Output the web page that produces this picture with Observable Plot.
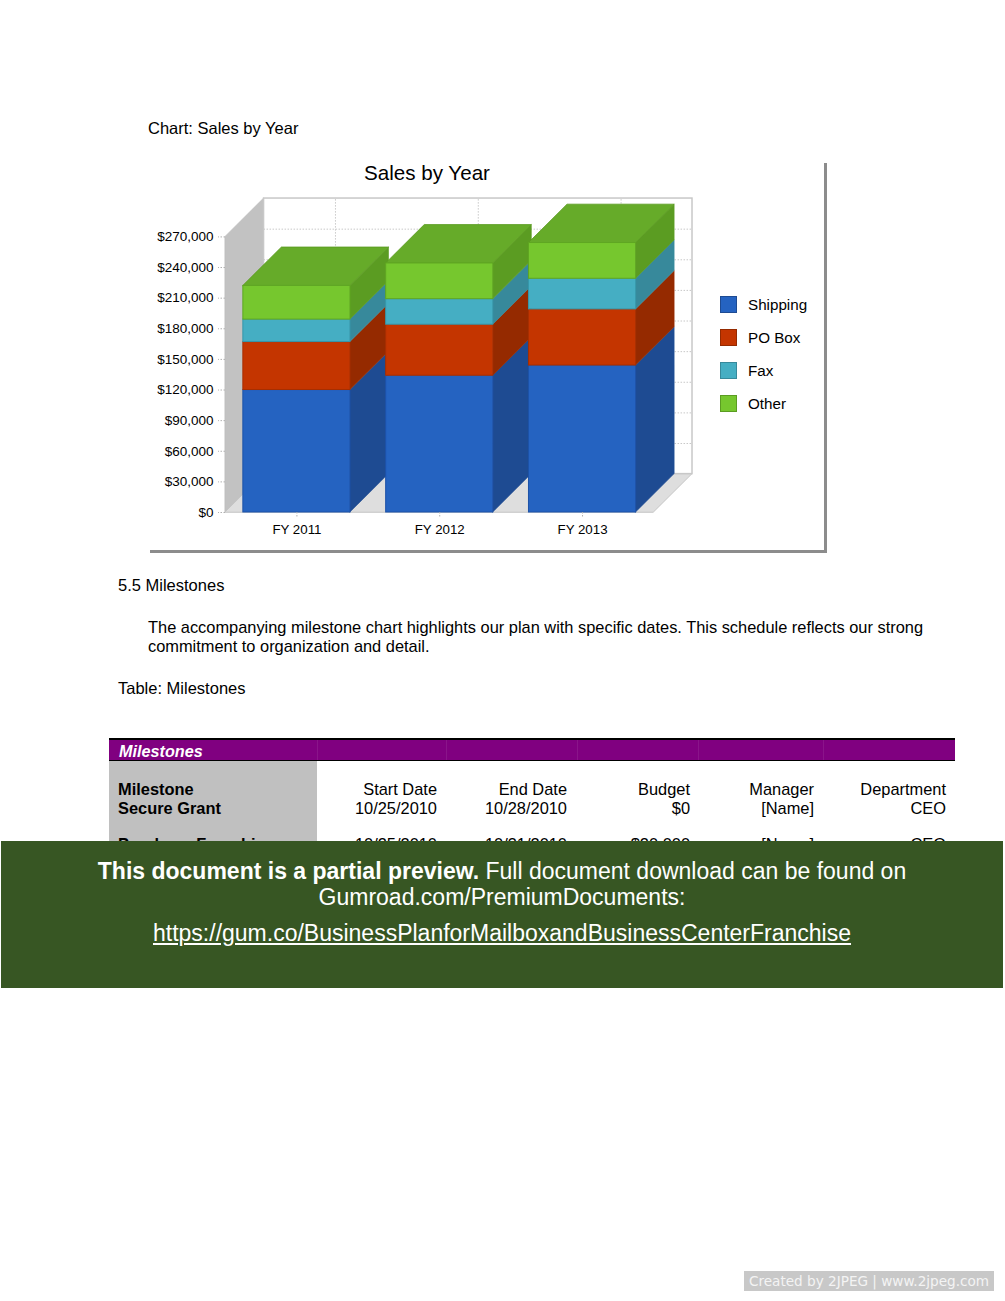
<!DOCTYPE html>
<html>
<head>
<meta charset="utf-8">
<script src="https://cdn.jsdelivr.net/npm/d3@7"></script>
<script src="https://cdn.jsdelivr.net/npm/@observablehq/plot@0.6"></script>
<style>
  html, body { margin: 0; padding: 0; background: #fff; }
  body { font-family: "Liberation Sans", Arial, sans-serif; color: #000; }
  #page { position: relative; width: 1005px; height: 1301px; overflow: hidden; background: #fff; }
  .abs { position: absolute; white-space: nowrap; }
  .t16 { font-size: 16.5px; line-height: 16px; }
  #chartBox { position: absolute; left: 150px; top: 163px; width: 674px; height: 387px;
              border-right: 3px solid #8c8c8c; border-bottom: 3px solid #8c8c8c; background: #fff; }
  #plotHolder { position: absolute; left: 150px; top: 186px; }
  .sw { position: absolute; width: 15px; height: 15px; border: 1px solid; }
  .lg { position: absolute; font-size: 15.2px; line-height: 15px; }
  .para { position: absolute; left: 148px; top: 618px; font-size: 16.4px; line-height: 19px; }
  #thead { position: absolute; left: 109px; top: 738px; width: 846px; height: 20px; background: #800080;
           border-top: 2px solid #000; border-bottom: 1px solid #000; }
  .sep { position: absolute; top: 0; width: 1px; height: 20px; background: rgba(255,255,255,0.08); }
  #greycol { position: absolute; left: 109px; top: 761px; width: 208px; height: 120px; background: #c0c0c0; }
  .r { position: absolute; font-size: 16.4px; line-height: 16px; text-align: right; white-space: nowrap; }
  .b { font-weight: bold; }
  #banner { position: absolute; left: 1px; top: 841px; width: 1002px; height: 147px; background: #375623; color: #fff; }
  .bl { position: absolute; left: 0; width: 1002px; text-align: center; font-size: 23px; line-height: 23px; white-space: nowrap; }
  #wm { position: absolute; left: 744px; top: 1271px; width: 250px; height: 20px; background: #c8c8c8; color: #f4f4f4;
        font-family: "DejaVu Sans", Verdana, sans-serif; font-size: 13.6px; line-height: 20px; text-align: center; white-space: nowrap; }
</style>
</head>
<body>
<div id="page">
  <div class="abs t16" style="left:148px; top:120px;">Chart: Sales by Year</div>

  <div id="chartBox"></div>
  <div class="abs" style="left:150px; width:554px; top:163px; text-align:center; font-size:20.6px; line-height:20px;">Sales by Year</div>
  <div id="plotHolder"></div>
  <div id="legend"></div>

  <div class="abs t16" style="left:118px; top:577px;">5.5 Milestones</div>
  <div class="para">The accompanying milestone chart highlights our plan with specific dates. This schedule reflects our strong<br>commitment to organization and detail.</div>
  <div class="abs t16" style="left:118px; top:680px;">Table: Milestones</div>

  <div id="thead">
    <div class="sep" style="left:208px"></div>
    <div class="sep" style="left:337px"></div>
    <div class="sep" style="left:468px"></div>
    <div class="sep" style="left:589px"></div>
    <div class="sep" style="left:714px"></div>
    <div class="abs b" style="left:10px; top:3px; font-size:16.2px; line-height:16px; font-style:italic; color:#fff;">Milestones</div>
  </div>
  <div id="greycol"></div>
  <div id="rows"></div>

  <div id="banner">
    <div class="bl" style="top:19px;"><b>This document is a partial preview.</b> Full document download can be found on</div>
    <div class="bl" style="top:45px;">Gumroad.com/PremiumDocuments:</div>
    <div class="bl" style="top:81px;"><span style="text-decoration:underline;">https://gum.co/BusinessPlanforMailboxandBusinessCenterFranchise</span></div>
  </div>

  <div id="wm">Created by 2JPEG | www.2jpeg.com</div>
</div>

<script>
// ---------- data ----------
const categories = ["FY 2011", "FY 2012", "FY 2013"];
const seriesNames = ["Shipping", "PO Box", "Fax", "Other"];
const shipping = [120000, 134000, 144000];
const poBox = [47000, 50000, 55000];
const fax = [22000, 25000, 30000];
const other = [33000, 35000, 35000];
const yTicks = [0, 30000, 60000, 90000, 120000, 150000, 180000, 210000, 240000, 270000];

// table data
const tableHeader = ["Milestone", "Start Date", "End Date", "Budget", "Manager", "Department"];
const tableRows = [
  ["Secure Grant", "10/25/2010", "10/28/2010", "$0", "[Name]", "CEO"],
  ["Purchase Franchise", "10/25/2010", "10/31/2010", "$20,000", "[Name]", "CEO"]
];

// ---------- styles ----------
const series = [shipping, poBox, fax, other];
const frontColors = ["#2563c1", "#c43500", "#45aec3", "#76c72e"];
const sideColors  = ["#1e4b92", "#952a00", "#37899b", "#5b9c22"];
const edgeColors  = ["#1d52a8", "#a82e00", "#3697aa", "#5fa622"];
const topColor = "#66ab29";

const DX = 0.27, DY = 37600, HALF = 0.375;
const xMin = -0.5, xMax = categories.length - 0.5;
const yMax = yTicks[yTicks.length - 1];

// stacked segments
const segs = [];
categories.forEach((c, i) => {
  let acc = 0;
  series.forEach((vals, s) => {
    segs.push({ i, s, key: i + "-" + s, lo: acc, hi: acc + vals[i] });
    acc += vals[i];
  });
});

const grid = { stroke: "#c8c8c8", strokeDasharray: "1.5,1.5" };

const marks = [
  // left wall
  Plot.areaY([{ x: xMin, y1: 0, y2: yMax }, { x: xMin + DX, y1: DY, y2: yMax + DY }],
    { x: "x", y1: "y1", y2: "y2", fill: "#c2c2c2", stroke: "#bcbcbc", strokeWidth: 0.6 }),
  // floor
  Plot.areaX([{ y: 0, x1: xMin, x2: xMax }, { y: DY, x1: xMin + DX, x2: xMax + DX }],
    { y: "y", x1: "x1", x2: "x2", fill: "#dedede", stroke: "#c4c4c4", strokeWidth: 1 }),
  // back wall
  Plot.rect([{ x1: xMin + DX, x2: xMax + DX, y1: DY, y2: yMax + DY }],
    { x1: "x1", x2: "x2", y1: "y1", y2: "y2", fill: "#fff", stroke: "#c8c8c8", strokeWidth: 1.5 }),
  // back-wall grid
  Plot.ruleY(yTicks.slice(1, -1), { y: d => d + DY, x1: () => xMin + DX, x2: () => xMax + DX, ...grid }),
  Plot.ruleX(categories.map((c, i) => i), { x: d => d + DX, y1: () => DY, y2: () => yMax + DY, ...grid })
];

categories.forEach((c, i) => {
  const mine = segs.filter(d => d.i === i);
  const side = mine.flatMap(d => [
    { key: d.key, s: d.s, x: i + HALF, y1: d.lo, y2: d.hi },
    { key: d.key, s: d.s, x: i + HALF + DX, y1: d.lo + DY, y2: d.hi + DY }
  ]);
  const t = mine[mine.length - 1];
  const top = [
    { y: t.hi, x1: i - HALF, x2: i + HALF },
    { y: t.hi + DY, x1: i - HALF + DX, x2: i + HALF + DX }
  ];
  marks.push(
    Plot.areaY(side, { x: "x", y1: "y1", y2: "y2", z: "key",
      fill: d => sideColors[d.s], stroke: d => sideColors[d.s], strokeWidth: 0.6 }),
    Plot.areaX(top, { y: "y", x1: "x1", x2: "x2", fill: topColor, stroke: "#5a9a20", strokeWidth: 0.8 }),
    Plot.rect(mine, { x1: d => d.i - HALF, x2: d => d.i + HALF, y1: "lo", y2: "hi",
      fill: d => frontColors[d.s], stroke: d => edgeColors[d.s], strokeWidth: 1 })
  );
});

marks.push(
  Plot.axisY(yTicks, { tickFormat: d => "$" + d3.format(",")(d), tickSize: 7, tickPadding: 5,
    stroke: "#b0b0b0", strokeDasharray: "1.5,1.5", fill: "#000", fontSize: 13.5 }),
  Plot.axisX(categories.map((c, i) => i), { tickFormat: i => categories[i], tickSize: 6, tickPadding: 6,
    stroke: "#b0b0b0", strokeDasharray: "1.5,1.5", fill: "#000", fontSize: 13.3 })
);

const chart = Plot.plot({
  width: 560, height: 360,
  marginLeft: 75, marginRight: 18, marginTop: 10, marginBottom: 34,
  x: { type: "linear", domain: [xMin, xMax + DX], axis: null },
  y: { type: "linear", domain: [0, 309600], axis: null },
  color: { type: "identity" },
  style: { background: "transparent", fontFamily: "'Liberation Sans', Arial, sans-serif", fontSize: "13px", color: "#000", overflow: "visible" },
  marks
});
document.getElementById("plotHolder").append(chart);

// legend
const legend = document.getElementById("legend");
seriesNames.forEach((name, s) => {
  const sw = document.createElement("div");
  sw.className = "sw";
  sw.style.left = "720px"; sw.style.top = (296 + 33 * s) + "px";
  sw.style.background = frontColors[s]; sw.style.borderColor = sideColors[s];
  legend.append(sw);
  const lb = document.createElement("div");
  lb.className = "lg";
  lb.style.left = "748px"; lb.style.top = (297 + 33 * s) + "px";
  lb.textContent = name;
  legend.append(lb);
});

// table rows
const rowsEl = document.getElementById("rows");
const rights = [null, 437, 567, 690, 814, 946];
const rowTops = [781, 800, 836];
[tableHeader, ...tableRows].forEach((row, r) => {
  row.forEach((txt, c) => {
    const el = document.createElement("div");
    el.className = "r";
    el.style.top = rowTops[r] + "px";
    if (c === 0) { el.style.left = "118px"; el.style.textAlign = "left"; el.classList.add("b"); }
    else { el.style.right = (1005 - rights[c]) + "px"; }
    el.textContent = txt;
    rowsEl.append(el);
  });
});
</script>
</body>
</html>
